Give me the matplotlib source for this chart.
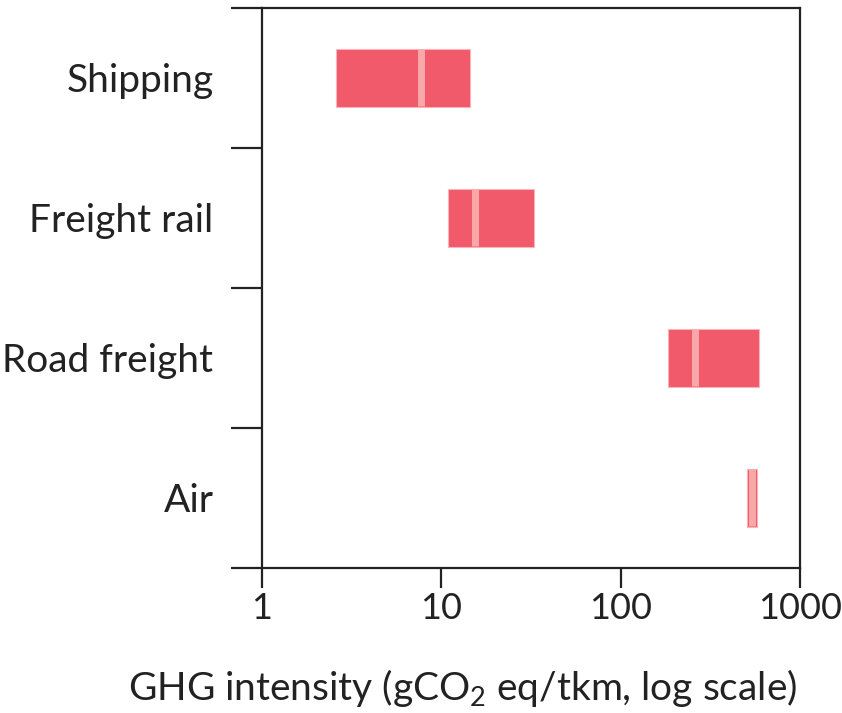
import matplotlib
matplotlib.use("Agg")
import matplotlib.pyplot as plt
import numpy as np

# GHG intensity ranges per freight mode (gCO2 eq/tkm)
modes = ["Shipping", "Freight rail", "Road freight", "Air"]
low = [2.57, 10.9, 184.0, 509.0]
high = [14.5, 32.7, 589.0, 579.0]
median = [7.7, 15.5, 260.0, 543.0]

FONT = "Lato"
TEXT = "#222222"
BAR = "#f05a6a"
MED = "#f8a8a8"
FS = 28

plt.rcParams.update({
    "font.family": FONT,
    "mathtext.fontset": "custom",
    "mathtext.rm": FONT,
    "mathtext.default": "rm",
    "text.color": TEXT,
    "axes.edgecolor": TEXT,
    "xtick.color": TEXT,
    "ytick.color": TEXT,
})

fig = plt.figure(figsize=(8.42, 7.13), dpi=100)
ax = fig.add_axes([0.3112, 0.2034, 0.9501 - 0.3112, 0.9888 - 0.2034])

y = np.arange(len(modes))
lo = np.array(low)
hi = np.array(high)
ax.barh(y, hi - lo, left=lo, height=0.41, color=BAR,
        edgecolor="#f8b4b8", linewidth=0.8, zorder=2)
ax.vlines(median, y - 0.205, y + 0.2, colors=MED, linewidth=5.0,
          capstyle="butt", zorder=3)

ax.set_xscale("log")
ax.set_xlim(1, 1000)
ax.set_ylim(len(modes) - 0.5, -0.5)

ax.set_xticks([1, 10, 100, 1000])
ax.set_xticklabels(["1", "10", "100", "1000"])
ax.xaxis.set_minor_locator(matplotlib.ticker.NullLocator())
ax.tick_params(axis="x", which="major", direction="out", length=14.4,
               width=1.6, labelsize=FS - 2, pad=3, labelcolor=TEXT)

# boundaries between modes get the ticks, names sit in the bands
ax.set_yticks(np.arange(len(modes) + 1) - 0.5)
ax.set_yticklabels([])
ax.set_yticks(y, minor=True)
ax.set_yticklabels(modes, minor=True)
ax.tick_params(axis="y", which="major", direction="out", length=22.3, width=1.6)
ax.tick_params(axis="y", which="minor", length=0, labelsize=FS, pad=35,
               labelcolor=TEXT)

for s in ax.spines.values():
    s.set_linewidth(1.6)

fig.text(463 / 842, 1 - 688 / 713, "GHG intensity (gCO$_2$ eq/tkm, log scale)",
         ha="center", va="center", fontsize=FS, color=TEXT)

fig.savefig("out.png", dpi=100)
